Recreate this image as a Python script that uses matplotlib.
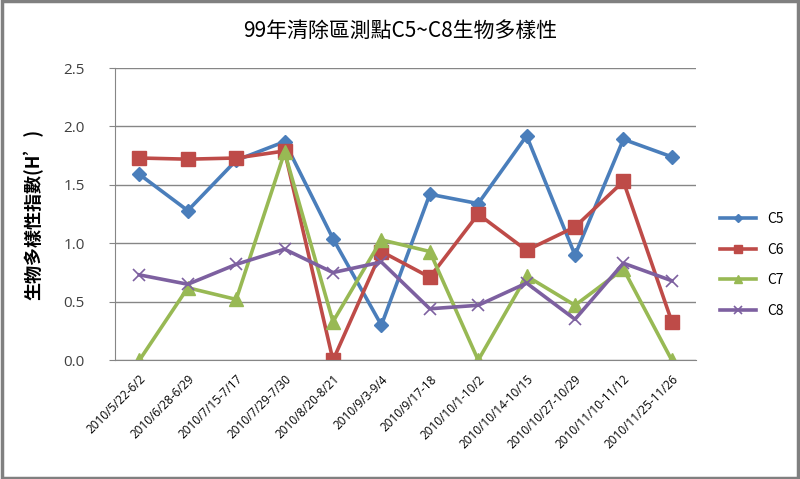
import matplotlib
matplotlib.use("Agg")
import matplotlib.pyplot as plt
import numpy as np

plt.rcParams['font.family'] = ['Noto Sans CJK TC', 'DejaVu Sans']

# sampling periods
periods = ["2010/5/22-6/2", "2010/6/28-6/29", "2010/7/15-7/17", "2010/7/29-7/30",
           "2010/8/20-8/21", "2010/9/3-9/4", "2010/9/17-18", "2010/10/1-10/2",
           "2010/10/14-10/15", "2010/10/27-10/29", "2010/11/10-11/12", "2010/11/25-11/26"]

# diversity index H' per station
c5 = [1.59, 1.28, 1.71, 1.87, 1.04, 0.30, 1.42, 1.34, 1.92, 0.90, 1.89, 1.74]
c6 = [1.73, 1.72, 1.73, 1.79, 0.00, 0.93, 0.71, 1.25, 0.94, 1.14, 1.53, 0.33]
c7 = [0.00, 0.62, 0.52, 1.78, 0.33, 1.03, 0.93, 0.00, 0.72, 0.47, 0.78, 0.00]
c8 = [0.73, 0.65, 0.82, 0.95, 0.75, 0.84, 0.44, 0.47, 0.66, 0.35, 0.83, 0.68]

fig = plt.figure(figsize=(8, 4.79), dpi=100)
ax = fig.add_axes([0.144, 0.248, 0.726, 0.61])

x = np.arange(len(periods))
ax.plot(x, c5, color='#4A7EBB', lw=2.6, marker='D', ms=7.5, label='C5')
ax.plot(x, c6, color='#BE4B48', lw=2.6, marker='s', ms=9.5, label='C6')
ax.plot(x, c7, color='#98B954', lw=2.6, marker='^', ms=9.5, label='C7')
ax.plot(x, c8, color='#7D60A0', lw=2.6, marker='x', ms=9, mew=1.2, label='C8')

ax.set_xlim(-0.5, len(periods) - 0.5)
ax.set_ylim(0, 2.5)
ax.set_yticks(np.arange(0, 2.51, 0.5))
ax.set_yticklabels(['%.1f' % v for v in np.arange(0, 2.51, 0.5)],
                   fontsize=11, color='#404040', family=['Open Sans', 'DejaVu Sans'])
ax.yaxis.grid(True, color='#868686', lw=1)
ax.set_axisbelow(True)
ax.set_xticks(x)
ax.set_xticklabels(periods, rotation=45, ha='right', rotation_mode='anchor',
                   fontsize=8.5, family=['Open Sans', 'DejaVu Sans'])
ax.tick_params(axis='x', length=0, pad=9)
ax.tick_params(axis='y', length=4, color='#868686', pad=18)
for s in ['top', 'right']:
    ax.spines[s].set_visible(False)
for s in ['left', 'bottom']:
    ax.spines[s].set_color('#868686')

ax.set_ylabel("生物多樣性指數(H’)", fontsize=13, fontweight='bold', labelpad=14)
fig.text(0.5, 0.935, "99年清除區測點C5~C8生物多樣性", ha='center', va='center', fontsize=15)

ax.legend(loc='upper left', bbox_to_anchor=(1.02, 0.55), frameon=False,
          fontsize=10, labelspacing=1.2, handlelength=2.6, markerscale=0.6)

# outer frame
fig.patches.append(plt.Rectangle((0.002, 0.003), 0.995, 0.994, transform=fig.transFigure,
                                 fill=False, edgecolor='#808080', lw=2.5))

fig.savefig("out.png", dpi=100)
